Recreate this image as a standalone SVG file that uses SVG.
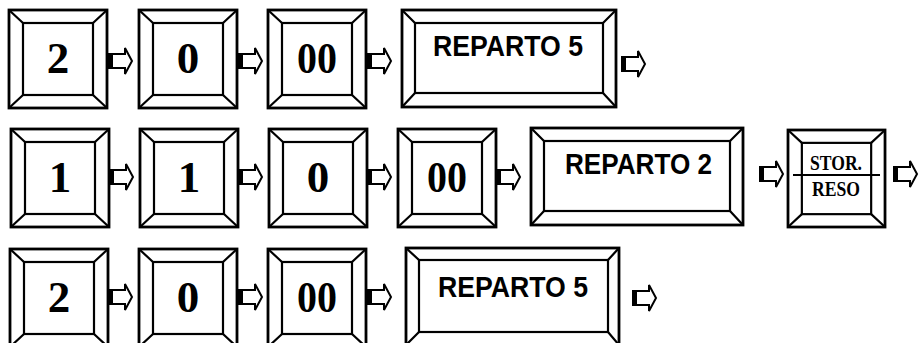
<svg xmlns="http://www.w3.org/2000/svg" xmlns:xlink="http://www.w3.org/1999/xlink" width="919" height="343" viewBox="0 0 919 343">
<style>
.k{fill:none;stroke:#000;stroke-width:2.2}
.o{fill:none;stroke:#000;stroke-width:2.8}
.d{font-family:"Liberation Serif","Times New Roman",serif;font-weight:bold;font-size:45px;text-anchor:middle;fill:#000}
.r{font-family:"Liberation Sans",Arial,sans-serif;font-weight:bold;font-size:29px;fill:#000}
.s{font-family:"Liberation Serif","Times New Roman",serif;font-weight:bold;font-size:20px;fill:#000}
</style>
<defs>
<g id="key">
<rect class="o" x="0" y="0" width="98" height="98"/>
<rect class="k" x="14" y="13" width="70" height="72"/>
<path class="k" d="M0 0L14 13M98 0L84 13M0 98L14 85M98 98L84 85"/>
</g>
<g id="arr">
<rect x="0" y="-8" width="5" height="16" fill="#000"/>
<path d="M4 -7H17V-13L24 0L17 13V7H4Z" fill="#fff" stroke="#000" stroke-width="2" stroke-linejoin="miter"/>
</g>
</defs>
<g id="connectors">
<use xlink:href="#arr" transform="translate(108,61)"/>
<use xlink:href="#arr" transform="translate(238,61)"/>
<use xlink:href="#arr" transform="translate(367,61)"/>
<use xlink:href="#arr" transform="translate(621,64)"/>
<use xlink:href="#arr" transform="translate(109,177)"/>
<use xlink:href="#arr" transform="translate(238,177)"/>
<use xlink:href="#arr" transform="translate(367,177)"/>
<use xlink:href="#arr" transform="translate(496,177)"/>
<use xlink:href="#arr" transform="translate(759,174)"/>
<use xlink:href="#arr" transform="translate(893,174)"/>
<use xlink:href="#arr" transform="translate(108,297)"/>
<use xlink:href="#arr" transform="translate(238,297)"/>
<use xlink:href="#arr" transform="translate(367,297)"/>
<use xlink:href="#arr" transform="translate(632,298)"/>
</g>
<g id="r1k1" transform="translate(9,10)"><use xlink:href="#key"/><text class="d" x="49" y="63">2</text></g>
<g id="r1k2" transform="translate(139,10)"><use xlink:href="#key"/><text class="d" x="49" y="63">0</text></g>
<g id="r1k3" transform="translate(268,10)"><use xlink:href="#key"/><text class="d" x="49" y="63" textLength="40" lengthAdjust="spacingAndGlyphs">00</text></g>
<g id="r1rep" transform="translate(402,10)">
<rect class="o" x="0" y="0" width="214" height="97"/>
<rect class="k" x="13" y="13" width="188" height="70"/>
<path class="k" d="M0 0L13 13M214 0L201 13M0 97L13 83M214 97L201 83"/>
<text class="r" x="31" y="46" textLength="150" lengthAdjust="spacingAndGlyphs">REPARTO 5</text>
</g>
<g id="r2k1" transform="translate(11,129)"><use xlink:href="#key"/><text class="d" x="49" y="63">1</text></g>
<g id="r2k2" transform="translate(140,129)"><use xlink:href="#key"/><text class="d" x="49" y="63">1</text></g>
<g id="r2k3" transform="translate(269,129)"><use xlink:href="#key"/><text class="d" x="49" y="63">0</text></g>
<g id="r2k4" transform="translate(398,129)"><use xlink:href="#key"/><text class="d" x="49" y="63" textLength="40" lengthAdjust="spacingAndGlyphs">00</text></g>
<g id="r2rep" transform="translate(531,128)">
<rect class="o" x="0" y="0" width="212" height="97"/>
<rect class="k" x="13" y="13" width="186" height="70"/>
<path class="k" d="M0 0L13 13M212 0L199 13M0 97L13 83M212 97L199 83"/>
<text class="r" x="34" y="46" textLength="147" lengthAdjust="spacingAndGlyphs">REPARTO 2</text>
</g>
<g id="r2stor" transform="translate(788,130)">
<use xlink:href="#key" transform="scale(0.99)"/>
<path class="k" d="M5 45H92"/>
<text class="s" x="22" y="40" textLength="52" lengthAdjust="spacingAndGlyphs">STOR.</text>
<text class="s" x="24" y="66" textLength="48" lengthAdjust="spacingAndGlyphs">RESO</text>
</g>
<g id="r3k1" transform="translate(10,249)"><use xlink:href="#key"/><text class="d" x="49" y="63">2</text></g>
<g id="r3k2" transform="translate(139,249)"><use xlink:href="#key"/><text class="d" x="49" y="63">0</text></g>
<g id="r3k3" transform="translate(268,249)"><use xlink:href="#key"/><text class="d" x="49" y="63" textLength="40" lengthAdjust="spacingAndGlyphs">00</text></g>
<g id="r3rep" transform="translate(406,248)">
<rect class="o" x="0" y="0" width="213" height="97"/>
<rect class="k" x="13" y="12" width="189" height="72"/>
<path class="k" d="M0 0L13 12M213 0L202 12M0 97L13 84M213 97L202 84"/>
<text class="r" x="32" y="49" textLength="150" lengthAdjust="spacingAndGlyphs">REPARTO 5</text>
</g>
</svg>
